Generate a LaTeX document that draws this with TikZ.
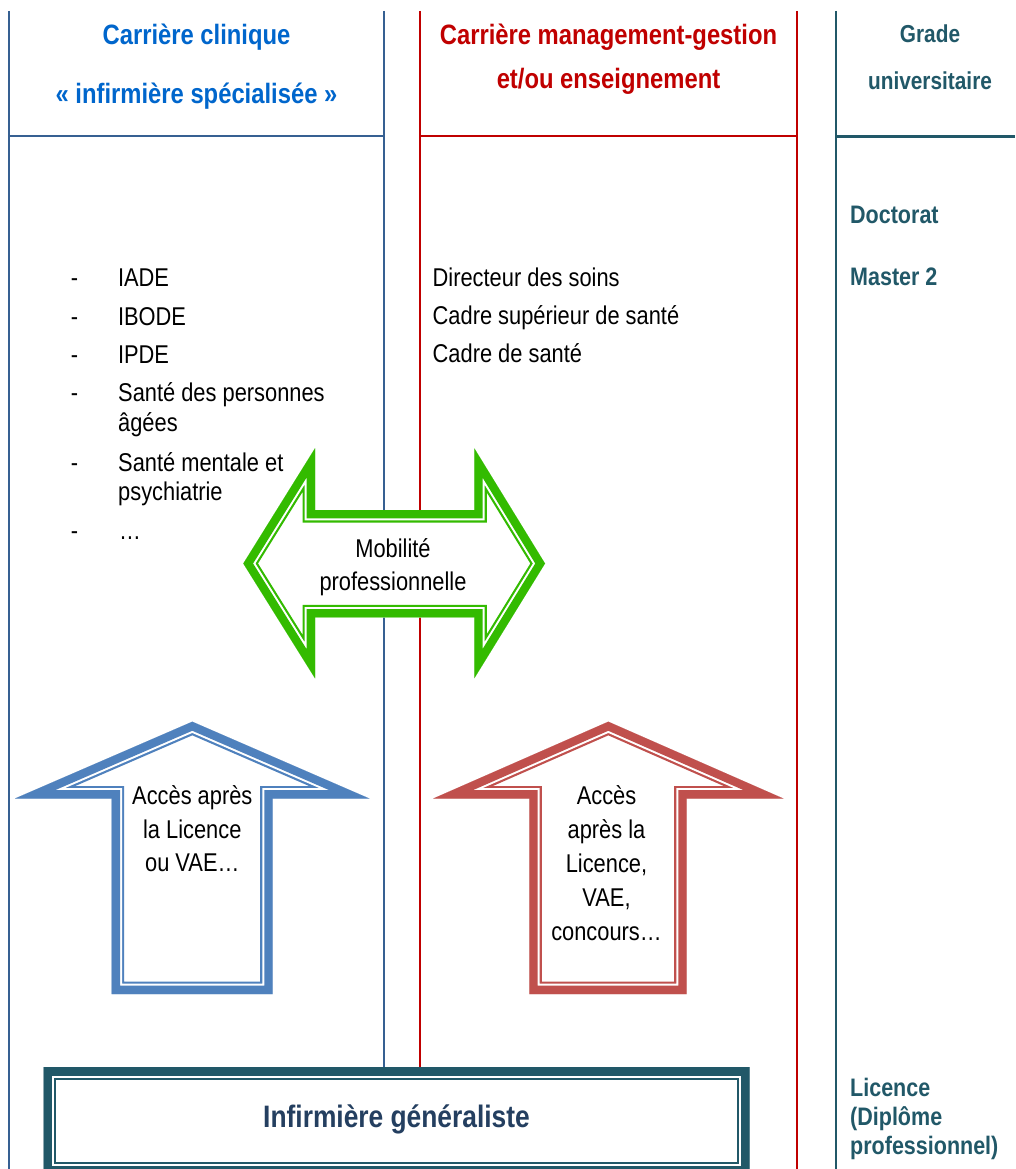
\documentclass[tikz,border=0pt]{standalone}
\usepackage{fontspec}
\setmainfont{Liberation Sans}[FakeStretch=0.85]
\definecolor{lineblue}{RGB}{54,96,146}
\definecolor{linered}{RGB}{192,0,0}
\definecolor{lineteal}{RGB}{33,88,104}
\definecolor{hdrblue}{RGB}{0,102,204}
\definecolor{arrblue}{RGB}{79,129,189}
\definecolor{arrred}{RGB}{192,80,77}
\definecolor{arrgreen}{RGB}{51,187,0}
\definecolor{boxteal}{RGB}{33,88,104}
\definecolor{boxtext}{RGB}{36,63,96}
\newcommand\dblshape[2]{%
  \begin{scope}
    \fill[white] #2;
    \clip #2;
    \draw[#1, line width=25pt, line join=miter, miter limit=30] #2;
    \draw[white, line width=20.6pt, line join=miter, miter limit=30] #2;
    \draw[#1, line width=16.6pt, line join=miter, miter limit=30] #2;
  \end{scope}}
\tikzset{
  colline/.style={line width=2pt},
  hdr/.style={anchor=base, inner sep=0pt, font=\bfseries\fontsize{28pt}{32pt}\selectfont},
  gradehdr/.style={anchor=base, inner sep=0pt, text=lineteal, font=\bfseries\fontsize{24.5pt}{28pt}\selectfont},
  body/.style={anchor=base west, inner sep=0pt, font=\fontsize{25.7pt}{30pt}\selectfont},
  bodyc/.style={anchor=base, inner sep=0pt, font=\fontsize{25.7pt}{30pt}\selectfont},
  grade/.style={anchor=base west, inner sep=0pt, text=lineteal, font=\bfseries\fontsize{25.3pt}{30pt}\selectfont},
}
\begin{document}
\begin{tikzpicture}[x=1pt,y=-1pt]
\clip (0,0) rectangle (1015,1169);
\fill[white] (0,0) rectangle (1015,1169);

% column lines
\draw[colline, lineblue] (9,11) -- (9,1169);
\draw[colline, lineblue] (384,11) -- (384,1068);
\draw[colline, lineblue] (9,136.5) -- (384,136.5);
\draw[colline, linered] (419.5,11) -- (419.5,1068);
\draw[colline, linered] (797,11) -- (797,1169);
\draw[colline, linered] (419.5,136.5) -- (797,136.5);
\draw[colline, lineteal, line width=2.4pt] (836,11) -- (836,1169);
\draw[colline, lineteal, line width=2.4pt] (836,136.5) -- (1015,136.5);

% headers
\node[hdr, text=hdrblue] (h1a) at (196.5,45) {Carrière clinique};
\node[hdr, text=hdrblue] (h1b) at (196.5,104) {« infirmière spécialisée »};
\node[hdr, text=linered] (h2a) at (608.5,45) {Carrière management-gestion};
\node[hdr, text=linered] (h2b) at (608.5,89) {et/ou enseignement};
\node[gradehdr] (h3a) at (930,42.7) {Grade};
\node[gradehdr] (h3b) at (930,89.3) {universitaire};

% left list
\node[body] (d1) at (70.7,286.7) {-};
\node[body] (l1) at (117.8,286.7) {IADE};
\node[body] (d2) at (70.7,325) {-};
\node[body] (l2) at (117.8,325) {IBODE};
\node[body] (d3) at (70.7,363.3) {-};
\node[body] (l3) at (117.8,363.3) {IPDE};
\node[body] (d4) at (70.7,401.7) {-};
\node[body] (l4a) at (118,401.7) {Santé des personnes};
\node[body] (l4b) at (118,431.7) {âgées};
\node[body] (d5) at (70.7,471) {-};
\node[body] (l5a) at (118,471) {Santé mentale et};
\node[body] (l5b) at (118,500) {psychiatrie};
\node[body] (d6) at (70.7,539.5) {-};
\node[body] (l6) at (119,539.5) {…};

% middle list
\node[body] (m1) at (432.5,286.5) {Directeur des soins};
\node[body] (m2) at (432.5,324.5) {Cadre supérieur de santé};
\node[body] (m3) at (432.5,362.5) {Cadre de santé};

% right column
\node[grade] (g1) at (850,223.3) {Doctorat};
\node[grade] (g2) at (850,285) {Master 2};
\node[grade] (g3) at (850,1096) {Licence};
\node[grade] (g4) at (850,1125.5) {(Diplôme};
\node[grade] (g5) at (850,1154.5) {professionnel)};

% green double arrow
\dblshape{arrgreen}{(243.3,563.5) -- (315,448.3) -- (315,510) -- (474.3,510) -- (474.3,448.3) -- (545,563.5) -- (474.3,678.3) -- (474.3,617.3) -- (315,617.3) -- (315,678.3) -- cycle}
\node[bodyc] (mob1) at (393,557.3) {Mobilité};
\node[bodyc] (mob2) at (393,590.7) {professionnelle};

% blue up arrow
\dblshape{arrblue}{(192.3,721.7) -- (369.3,798.5) -- (272.7,798.5) -- (272.7,994) -- (111.7,994) -- (111.7,798.5) -- (15,798.5) -- cycle}
\node[bodyc] (ba1) at (192.3,804.3) {Accès après};
\node[bodyc] (ba2) at (192.3,838.2) {la Licence};
\node[bodyc] (ba3) at (192.3,871.7) {ou VAE…};

% red up arrow
\dblshape{arrred}{(608.3,721.7) -- (783.3,798.5) -- (686.7,798.5) -- (686.7,994) -- (529.3,994) -- (529.3,798.5) -- (433.3,798.5) -- cycle}
\node[bodyc] (ra1) at (606.5,804.3) {Accès};
\node[bodyc] (ra2) at (606.5,838) {après la};
\node[bodyc] (ra3) at (606.5,872) {Licence,};
\node[bodyc] (ra4) at (606.5,906) {VAE,};
\node[bodyc] (ra5) at (606.5,940) {concours…};

% bottom box
\dblshape{boxteal}{(43.5,1067.5) rectangle (749.5,1174.5)}
\node[anchor=base, inner sep=0pt, text=boxtext, font=\bfseries\fontsize{31pt}{36pt}\selectfont] (inf) at (396.5,1127.5) {Infirmière généraliste};
\end{tikzpicture}
\end{document}
